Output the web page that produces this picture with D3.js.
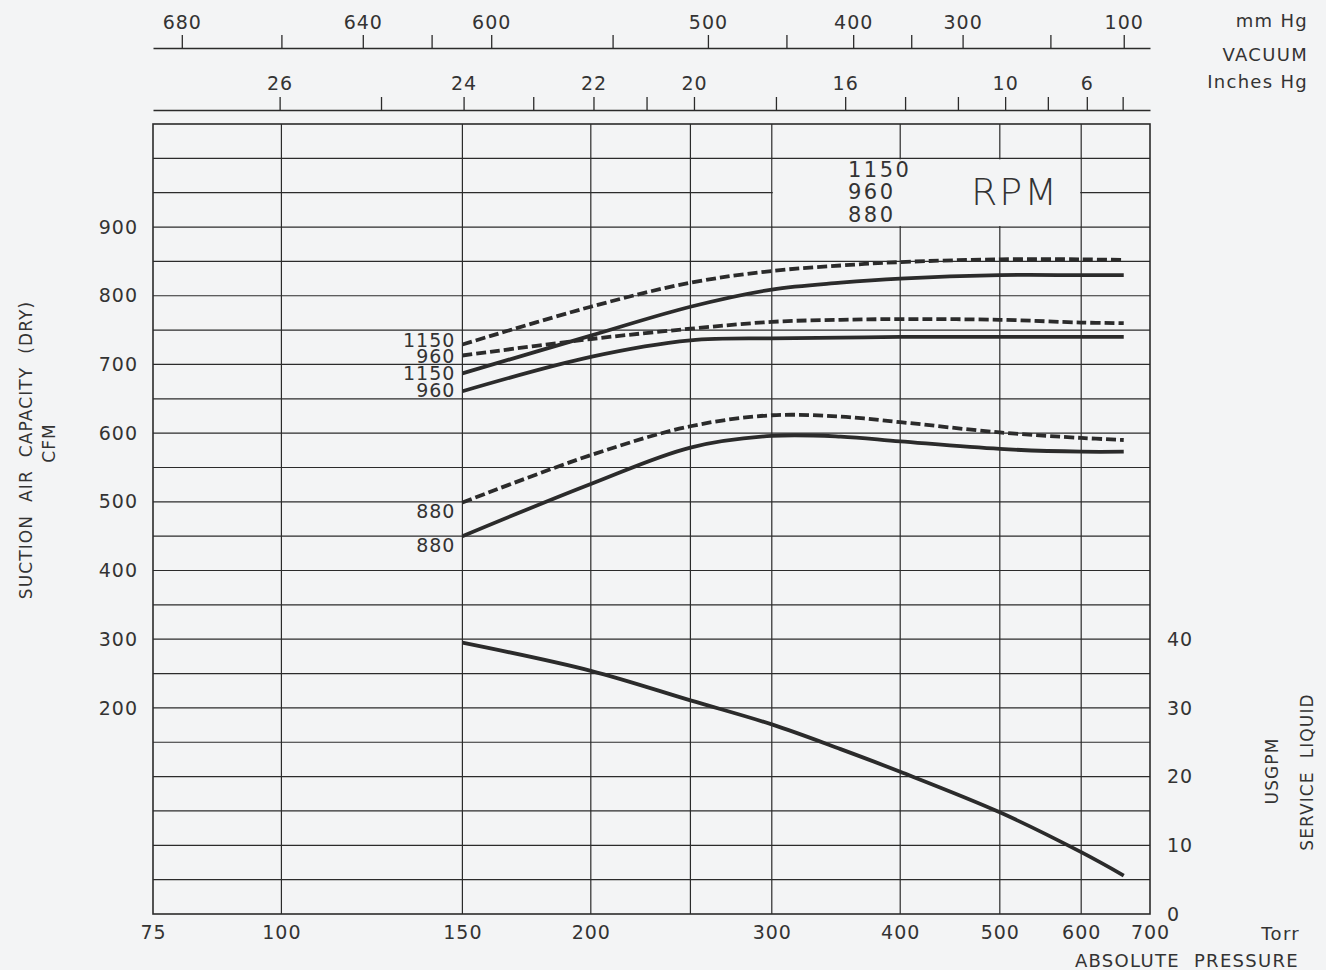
<!DOCTYPE html>
<html>
<head>
<meta charset="utf-8">
<script src="https://cdn.jsdelivr.net/npm/d3@7"></script>
<style>
  body { margin: 0; background: #f3f4f5; }
  svg { display: block; }
  text { font-family: "DejaVu Sans", sans-serif; fill: #333; }
</style>
</head>
<body>
<svg id="chart" width="1326" height="970"></svg>
<script>
// absolute pressure, Torr
const torr = [150, 200, 250, 300, 350, 400, 500, 600, 660];

// suction air capacity, CFM (dashed / solid families)
const dashed1150 = [729, 784, 819, 836, 844, 849, 853, 853, 852];
const dashed960 = [713, 737, 752, 762, 765, 766, 765, 761, 760];
const dashed880 = [499, 568, 610, 626, 624, 616, 601, 593, 590];
const solid1150 = [687, 742, 784, 809, 819, 825, 830, 830, 830];
const solid960 = [661, 711, 735, 738, 739, 740, 740, 740, 740];
const solid880 = [450, 526, 579, 596, 595, 588, 577, 573, 573];

// service liquid, USGPM
const serviceLiquid = [39.5, 35.4, 31.1, 27.6, 24.0, 20.7, 14.8, 9.0, 5.6];

const torrTicks = [75, 100, 150, 200, 300, 400, 500, 600, 700];
const torrGrid = [100, 150, 200, 250, 300, 400, 500, 600];
const cfmTicks = [200, 300, 400, 500, 600, 700, 800, 900];
const gpmTicks = [0, 10, 20, 30, 40];
const mmHgTicks = [680, 660, 640, 620, 600, 550, 500, 450, 400, 350, 300, 200, 100];
const mmHgLabels = [680, 640, 600, 500, 400, 300, 100];
const inHgTicks = [26, 25, 24, 23, 22, 21, 20, 18, 16, 14, 12, 10, 8, 6, 4];
const inHgLabels = [26, 24, 22, 20, 16, 10, 6];

const curveLabels = [
  { text: "1150", value: 729, dy: 2 },
  { text: "960", value: 713, dy: 7 },
  { text: "1150", value: 687, dy: 7 },
  { text: "960", value: 661, dy: 6 },
  { text: "880", value: 499, dy: 15 },
  { text: "880", value: 450, dy: 16 },
];
const legendRpm = ["1150", "960", "880"];

const plotLeft = 153, plotRight = 1150, plotTop = 124, plotBottom = 914;
const ink = "#2b2b2b";

const x = d3.scaleLog().domain([75, 700]).range([plotLeft, plotRight]);
const y = d3.scaleLinear().domain([-100, 1050]).range([plotBottom, plotTop]);
const yR = d3.scaleLinear().domain([0, 115]).range([plotBottom, plotTop]);

const svg = d3.select("#chart");

// grid
const grid = svg.append("g").attr("stroke", ink).attr("stroke-width", 1.2);
grid
  .selectAll("line.v")
  .data(torrGrid)
  .enter()
  .append("line")
  .attr("x1", (d) => x(d))
  .attr("x2", (d) => x(d))
  .attr("y1", plotTop)
  .attr("y2", plotBottom);
grid
  .selectAll("line.h")
  .data(d3.range(-50, 1050, 50))
  .enter()
  .append("line")
  .attr("x1", plotLeft)
  .attr("x2", plotRight)
  .attr("y1", (d) => y(d))
  .attr("y2", (d) => y(d));

// blank cell behind the RPM legend
svg
  .append("rect")
  .attr("x", x(300) + 1)
  .attr("y", y(1000) + 1)
  .attr("width", x(600) - x(300) - 2)
  .attr("height", y(900) - y(1000) - 2)
  .attr("fill", "#f3f4f5");

svg
  .append("rect")
  .attr("x", plotLeft)
  .attr("y", plotTop)
  .attr("width", plotRight - plotLeft)
  .attr("height", plotBottom - plotTop)
  .attr("fill", "none")
  .attr("stroke", ink)
  .attr("stroke-width", 1.6);

// axes
function styleAxis(g, size) {
  g.selectAll("text")
    .attr("fill", "#333")
    .style("font-size", size + "px")
    .style("letter-spacing", "1px")
    .style("font-family", "DejaVu Sans, sans-serif");
  g.selectAll("line").attr("stroke", ink).attr("stroke-width", 1.3);
  g.select(".domain").attr("stroke", ink).attr("stroke-width", 1.3);
}

svg
  .append("g")
  .attr("transform", `translate(0,${plotBottom})`)
  .call(
    d3.axisBottom(x).tickValues(torrTicks).tickFormat(d3.format("d")).tickSize(0).tickPadding(12)
  )
  .call((g) => g.select(".domain").remove())
  .call((g) => styleAxis(g, 19));

svg
  .append("g")
  .attr("transform", `translate(${plotLeft},0)`)
  .call(d3.axisLeft(y).tickValues(cfmTicks).tickSize(0).tickPadding(15))
  .call((g) => g.select(".domain").remove())
  .call((g) => styleAxis(g, 19));

svg
  .append("g")
  .attr("transform", `translate(${plotRight},0)`)
  .call(d3.axisRight(yR).tickValues(gpmTicks).tickSize(0).tickPadding(17))
  .call((g) => g.select(".domain").remove())
  .call((g) => styleAxis(g, 19));

// vacuum scales across the top
svg
  .append("g")
  .attr("transform", "translate(0,48)")
  .call(
    d3.axisTop(x)
      .tickValues(mmHgTicks.map((v) => 760 - v))
      .tickFormat((t) => {
        const v = Math.round(760 - t);
        return mmHgLabels.includes(v) ? v : "";
      })
      .tickSize(13)
      .tickSizeOuter(0)
      .tickPadding(6)
  )
  .call((g) => styleAxis(g, 19));

svg
  .append("g")
  .attr("transform", "translate(0,110)")
  .call(
    d3.axisTop(x)
      .tickValues(inHgTicks.map((v) => 760 - v * 25.4))
      .tickFormat((t) => {
        const v = Math.round((760 - t) / 25.4);
        return inHgLabels.includes(v) ? v : "";
      })
      .tickSize(13)
      .tickSizeOuter(0)
      .tickPadding(7)
  )
  .call((g) => styleAxis(g, 19));

// curves
const line = d3
  .line()
  .x((d) => x(d[0]))
  .y((d) => d[1])
  .curve(d3.curveCatmullRom.alpha(0.5));

const cfmSeries = [
  { values: dashed1150, dash: "10,4" },
  { values: dashed960, dash: "10,4" },
  { values: dashed880, dash: "10,4" },
  { values: solid1150, dash: null },
  { values: solid960, dash: null },
  { values: solid880, dash: null },
];

svg
  .selectAll("path.cfm")
  .data(cfmSeries)
  .enter()
  .append("path")
  .attr("class", "cfm")
  .attr("d", (s) => line(torr.map((t, i) => [t, y(s.values[i])])))
  .attr("fill", "none")
  .attr("stroke", ink)
  .attr("stroke-width", 3.8)
  .attr("stroke-dasharray", (s) => s.dash);

svg
  .append("path")
  .attr("d", line(torr.map((t, i) => [t, yR(serviceLiquid[i])])))
  .attr("fill", "none")
  .attr("stroke", ink)
  .attr("stroke-width", 3.8);

// curve labels
svg
  .selectAll("text.curve")
  .data(curveLabels)
  .enter()
  .append("text")
  .attr("x", x(150) - 7)
  .attr("y", (d) => y(d.value) + d.dy)
  .attr("text-anchor", "end")
  .style("font-size", "19px")
  .style("letter-spacing", "1px")
  .text((d) => d.text);

// RPM legend
svg
  .selectAll("text.rpm")
  .data(legendRpm)
  .enter()
  .append("text")
  .attr("x", 848)
  .attr("y", (d, i) => [177, 199, 222][i])
  .style("font-size", "21px")
  .style("letter-spacing", "2.5px")
  .text((d) => d);

svg
  .append("text")
  .attr("x", 1015)
  .attr("y", 205)
  .attr("text-anchor", "middle")
  .style("font-size", "38px")
  .style("font-weight", 300)
  .style("letter-spacing", "2px")
  .attr("fill", "#444")
  .text("RPM");

// titles
const titles = [
  { text: "mm Hg", x: 1308, y: 27, anchor: "end" },
  { text: "VACUUM", x: 1308, y: 61, anchor: "end" },
  { text: "Inches Hg", x: 1308, y: 88, anchor: "end" },
  { text: "Torr", x: 1300, y: 940, anchor: "end" },
  { text: "ABSOLUTE  PRESSURE", x: 1299, y: 967, anchor: "end" },
];
svg
  .selectAll("text.title")
  .data(titles)
  .enter()
  .append("text")
  .attr("x", (d) => d.x)
  .attr("y", (d) => d.y)
  .attr("text-anchor", (d) => d.anchor)
  .style("font-size", "18px")
  .style("letter-spacing", "1.3px")
  .style("white-space", "pre")
  .text((d) => d.text);

const rotated = [
  { text: "SUCTION  AIR  CAPACITY  (DRY)", x: 32, y: 450 },
  { text: "CFM", x: 55, y: 443 },
  { text: "SERVICE  LIQUID", x: 1313, y: 772 },
  { text: "USGPM", x: 1278, y: 771 },
];
svg
  .selectAll("text.rot")
  .data(rotated)
  .enter()
  .append("text")
  .attr("transform", (d) => `translate(${d.x},${d.y}) rotate(-90)`)
  .attr("text-anchor", "middle")
  .style("font-size", "17px")
  .style("letter-spacing", "1.1px")
  .style("white-space", "pre")
  .text((d) => d.text);
</script>
</body>
</html>
